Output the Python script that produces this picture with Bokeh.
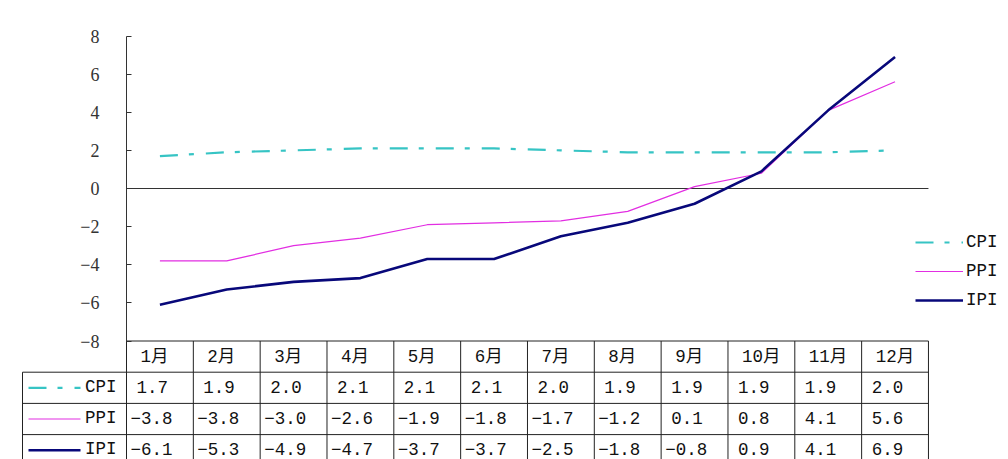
from bokeh.plotting import figure
from bokeh.models import Range1d, LinearAxis, FixedTicker, Legend, LegendItem, ColumnDataSource
from bokeh.core.properties import value
from bokeh.embed import file_html
from bokeh.resources import INLINE

# ---------------- data ----------------
months = ["1月", "2月", "3月", "4月", "5月", "6月", "7月", "8月", "9月", "10月", "11月", "12月"]
cpi = [1.7, 1.9, 2.0, 2.1, 2.1, 2.1, 2.0, 1.9, 1.9, 1.9, 1.9, 2.0]
ppi = [-3.8, -3.8, -3.0, -2.6, -1.9, -1.8, -1.7, -1.2, 0.1, 0.8, 4.1, 5.6]
ipi = [-6.1, -5.3, -4.9, -4.7, -3.7, -3.7, -2.5, -1.8, -0.8, 0.9, 4.1, 6.9]
series_names = ["CPI", "PPI", "IPI"]
yticks = [-8, -6, -4, -2, 0, 2, 4, 6, 8]

# ---------------- styles ----------------
colors = {"CPI": "#36C4C4", "PPI": "#E22EE2", "IPI": "#08087A"}
widths = {"CPI": 2.2, "PPI": 1.2, "IPI": 2.6}
dashes = {"CPI": "18 11 5 12", "PPI": "solid", "IPI": "solid"}
SERIF = "Liberation Serif"
MONO = "Liberation Mono"
MIXED = "Liberation Mono, Noto Sans CJK SC"
TXT = "17.5px"
LINE_C = "#222222"

# ---------------- geometry (figure pixels) ----------------
W, H = 1008, 459
X0_PX = 126.0          # pixel of x = 0 (y-axis)
COL_PX = 66.83         # pixel width of one month column
Y8_PX = 35.5           # pixel of y = 8
YM8_PX = 340.5         # pixel of y = -8
UNIT = (YM8_PX - Y8_PX) / 16.0
ROW = 31.2 / UNIT      # table row height in data units
LEFT_COL = (22 - X0_PX) / COL_PX   # left border of table label column

x_start = -X0_PX / COL_PX
x_end = (W - X0_PX) / COL_PX
y_end = 8 + Y8_PX / UNIT
y_start = -8 - (H - YM8_PX) / UNIT

p = figure(width=W, height=H, output_backend="svg", toolbar_location=None,
           x_range=Range1d(x_start, x_end), y_range=Range1d(y_start, y_end),
           x_axis_type=None, y_axis_type=None, min_border=0)
p.outline_line_color = None
p.background_fill_color = "white"

n = len(months)
xs = [i + 0.5 for i in range(n)]

# zero line
p.segment(x0=[0], y0=[0], x1=[n], y1=[0], line_color="#333333", line_width=1)

# series lines
series = {"CPI": cpi, "PPI": ppi, "IPI": ipi}
renderers = {}
for name in series_names:
    renderers[name] = p.line(xs, series[name], line_color=colors[name],
                             line_width=widths[name], line_dash=dashes[name])

# y axis
yaxis = LinearAxis(fixed_location=0, bounds=(-8, 8), ticker=FixedTicker(ticks=yticks))
yaxis.major_label_overrides = {t: (str(t).replace("-", "\u2212")) for t in yticks}
yaxis.major_tick_in = 5
yaxis.major_tick_out = 0
yaxis.minor_tick_line_color = None
yaxis.axis_line_color = "#333333"
yaxis.major_tick_line_color = "#333333"
yaxis.major_label_text_font = SERIF
yaxis.major_label_text_font_size = "18px"
yaxis.major_label_text_color = "#333333"
yaxis.major_label_standoff = 27
p.add_layout(yaxis, "left")

# ---------------- data table ----------------
table_bottom = y_start - 1
p.segment(x0=[0], y0=[-8], x1=[n], y1=[-8], line_color=LINE_C, line_width=1)
hy = [-8 - ROW * k for k in range(1, 5)]
p.segment(x0=[LEFT_COL] * len(hy), y0=hy, x1=[n] * len(hy), y1=hy,
          line_color=LINE_C, line_width=1)
vx = list(range(0, n + 1))
p.segment(x0=vx, y0=[-8] * len(vx), x1=vx, y1=[table_bottom] * len(vx),
          line_color=LINE_C, line_width=1)
p.segment(x0=[LEFT_COL], y0=[-8 - ROW], x1=[LEFT_COL], y1=[table_bottom],
          line_color=LINE_C, line_width=1)

# header months
p.text(x=[i for i in range(n)], y=[-8 - ROW / 2] * n, text=months,
       x_offset=14, text_align="left", text_baseline="middle",
       text_font=value(MIXED), text_font_size=TXT, text_color="#111111")

def fmt(v):
    return f"{v:.1f}".replace("-", "\u2212")

tx, ty, tt, toff = [], [], [], []
for r, name in enumerate(series_names):
    for i, v in enumerate(series[name]):
        tx.append(i)
        ty.append(-8 - ROW * (r + 1.5))
        tt.append(fmt(v))
        toff.append(10 if v >= 0 else 4)
src = ColumnDataSource(dict(x=tx, y=ty, text=tt, off=toff))
p.text(x="x", y="y", text="text", x_offset="off", y_offset=-1, source=src,
       text_align="left", text_baseline="middle",
       text_font=value(MONO), text_font_size=TXT, text_color="#111111")

# row labels with line samples
sx0 = (28 - X0_PX) / COL_PX
sx1 = (80 - X0_PX) / COL_PX
for r, name in enumerate(series_names):
    yy = -8 - ROW * (r + 1.5)
    p.segment(x0=[sx0], y0=[yy], x1=[sx1], y1=[yy], line_color=colors[name],
              line_width=widths[name], line_dash=dashes[name])
p.text(x=[0] * 3, y=[-8 - ROW * (r + 1.5) for r in range(3)], text=series_names,
       x_offset=-10, y_offset=-1, text_align="right", text_baseline="middle",
       text_font=value(MONO), text_font_size=TXT, text_color="#111111")

# ---------------- legend ----------------
legend = Legend(items=[LegendItem(label=nm, renderers=[renderers[nm]]) for nm in series_names],
                location=(915, 149), orientation="vertical",
                glyph_width=48, glyph_height=20, label_height=20, label_standoff=3,
                spacing=9, padding=0, margin=0,
                border_line_color=None, background_fill_alpha=0,
                label_text_font=MONO, label_text_font_size=TXT,
                label_text_color="#111111")
p.add_layout(legend)

open("out.html", "w").write(file_html(p, INLINE))
